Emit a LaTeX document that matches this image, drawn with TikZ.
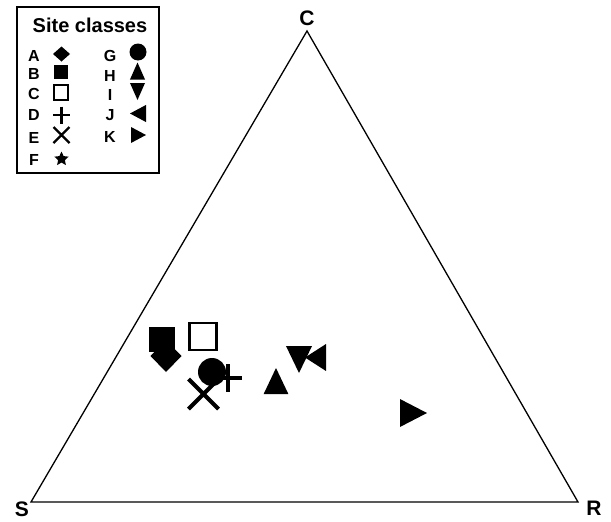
\documentclass[tikz,border=0pt]{standalone}
\usepackage{fontspec}
\setmainfont{Liberation Sans}
\usetikzlibrary{shapes.geometric}
\tikzset{
  trup/.pic={\fill (0,-1) -- (0.95,1) -- (-0.95,1) -- cycle;},
  trdown/.pic={\fill (0,1) -- (0.95,-1) -- (-0.95,-1) -- cycle;},
  trleft/.pic={\fill (-1,0) -- (1,0.95) -- (1,-0.95) -- cycle;},
  trright/.pic={\fill (1,0) -- (-1,0.95) -- (-1,-0.95) -- cycle;},
  dia/.pic={\fill (-1,0) -- (0,-1) -- (1,0) -- (0,1) -- cycle;},
  sq/.pic={\fill (-1,-1) rectangle (1,1);},
  lbl/.style={font=\bfseries\fontsize{16}{16}\selectfont,inner sep=0pt,anchor=center},
  corner/.style={font=\bfseries\fontsize{21}{21}\selectfont,inner sep=0pt,anchor=center},
  edge/.style={line width=1.3pt,line join=miter},
}
\begin{document}
\begin{tikzpicture}[x=1pt,y=-1pt]
\useasboundingbox (0,0) rectangle (611,522);
% triangle
\coordinate (S) at (31,502);
\coordinate (R) at (578,502);
\coordinate (C) at (307,31);
\draw[edge] (S) -- (R) -- (C) -- cycle;
\node[corner] (lC) at (307,18.5) {C};
\node[corner] (lS) at (22,509) {S};
\node[corner] (lR) at (594,508.5) {R};
% legend box
\draw[line width=1.2pt] (17,7) rectangle (159,173);
\node[font=\bfseries\fontsize{20}{20}\selectfont,inner sep=0pt,anchor=base] (title) at (90,32) {Site classes};
\node[lbl] (lA) at (34,55.5) {A};
\node[lbl] (lB) at (34,73.5) {B};
\node[lbl] (lCc) at (34,94) {C};
\node[lbl] (lD) at (34,114.5) {D};
\node[lbl] (lE) at (34,137.5) {E};
\node[lbl] (lF) at (34,160) {F};
\node[lbl] (lG) at (110,55.5) {G};
\node[lbl] (lH) at (110,76) {H};
\node[lbl] (lI) at (110,94.5) {I};
\node[lbl] (lJ) at (110,115) {J};
\node[lbl] (lK) at (110,137) {K};
% legend symbols
\pic[xscale=8.5,yscale=7.5] at (61.5,54) {dia};
\pic[scale=7] at (61,72) {sq};
\draw[line width=1.8pt] (61,92.5) +(-7,-7.5) rectangle +(7,7.5);
\draw[line width=2.2pt] (61.5,115) +(-8.5,0) -- +(8.5,0) (61.5,115) +(0,-8.5) -- +(0,8.5);
\draw[line width=2.2pt] (61.5,135) +(-8,-8) -- +(8,8) (61.5,135) +(-8,8) -- +(8,-8);
\node[star,star points=5,star point ratio=2.1,fill=black,inner sep=0pt,minimum size=15pt] (sF) at (61.5,159) {};
\fill (138,52) circle (8.5);
\pic[xscale=7.9,yscale=8.5] at (137.5,71) {trup};
\pic[xscale=7.9,yscale=8.5] at (137.5,91.5) {trdown};
\pic[xscale=8,yscale=9] at (138,113.5) {trleft};
\pic[xscale=7.5,yscale=8.4] at (138.5,135) {trright};
% data points
\pic[xscale=13,yscale=12.5] at (161.5,339) {sq};
\pic[xscale=15.5,yscale=16] at (166,356) {dia};
\draw[line width=2.2pt] (203,336.5) +(-13.5,-13.3) rectangle +(13.5,13.3);
\draw[line width=4.2pt] (203.5,394) +(-15,-15) -- +(15,15) (203.5,394) +(-15,15) -- +(15,-15);
\draw[line width=4pt] (228,378) +(-14,0) -- +(14,0) (228,378) +(0,-14) -- +(0,14);
\fill (212,372) circle (14);
\pic[xscale=13,yscale=13] at (276,381) {trup};
\pic[xscale=13.7,yscale=13.5] at (299,359.5) {trdown};
\pic[xscale=10.5,yscale=14.2] at (315.5,357.5) {trleft};
\pic[xscale=13.5,yscale=14.7] at (413.5,413) {trright};
\end{tikzpicture}
\end{document}
